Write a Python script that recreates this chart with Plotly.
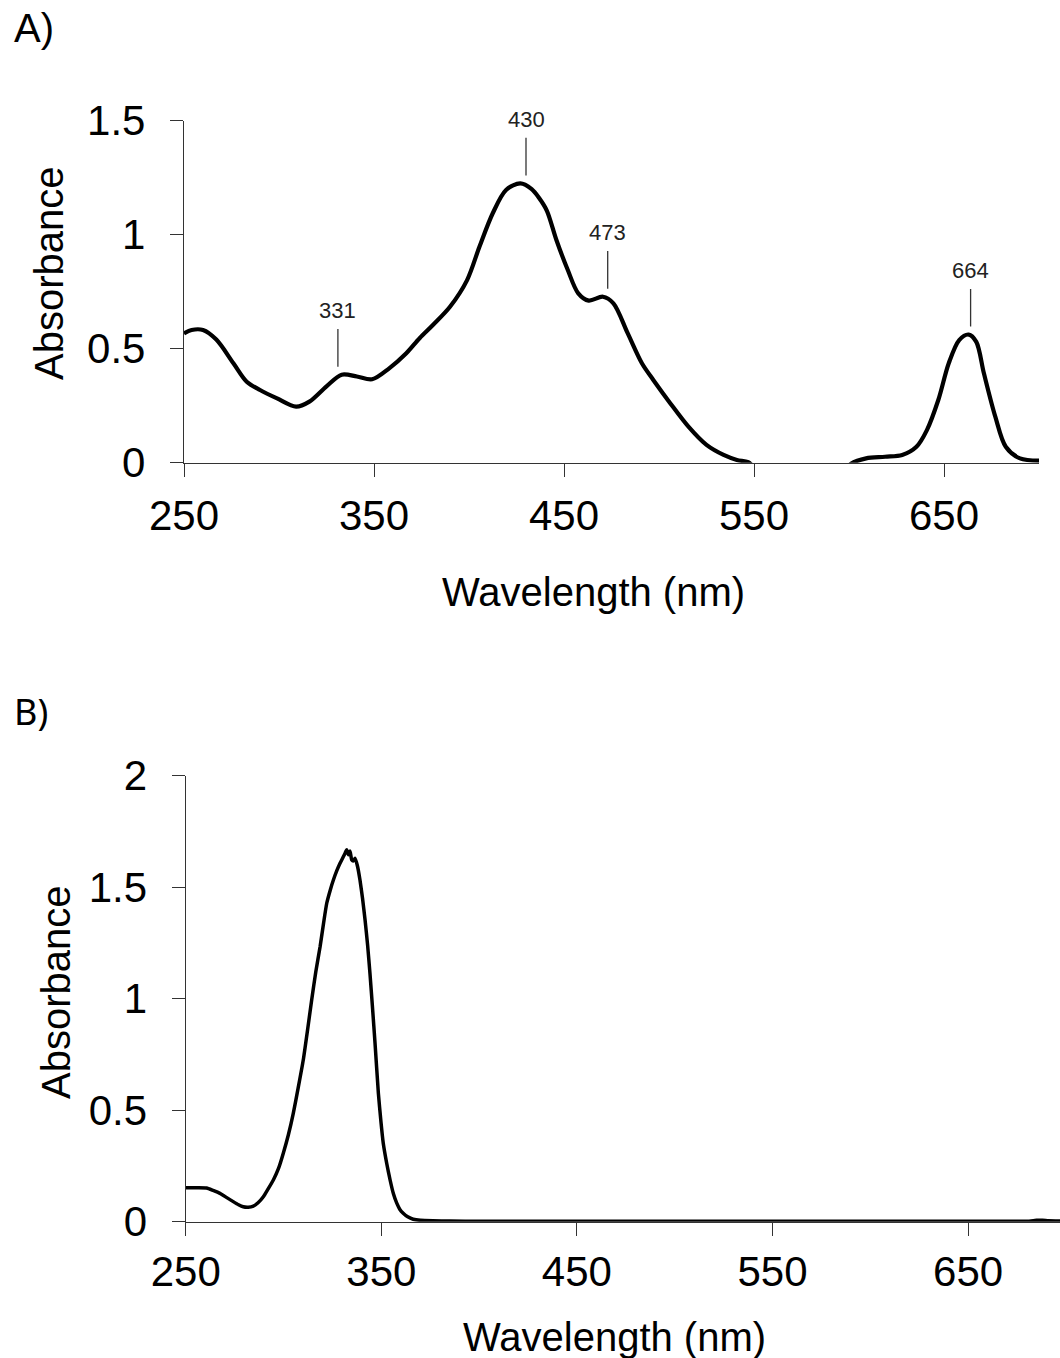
import plotly.graph_objects as go

# ---------------- data ----------------
# (A) absorption spectrum with several bands
wl_a = [250, 254, 260, 267, 276, 283, 290, 299, 309, 316, 325, 333, 341, 349,
        358, 367, 374, 381, 390, 399, 405.5, 412.5, 419.5, 427, 433, 437, 441,
        446, 452, 457.5, 463, 470.5, 476, 483.5, 491, 497, 506, 515.5, 525,
        534, 541, 547, 552, 598, 601, 609, 619, 628, 635.5, 641, 647, 652.5,
        658, 663, 667, 671, 677, 682.5, 690, 700]
abs_a = [0.567, 0.582, 0.582, 0.54, 0.436, 0.355, 0.319, 0.282, 0.246, 0.268,
         0.335, 0.386, 0.378, 0.366, 0.414, 0.48, 0.546, 0.604, 0.684, 0.801,
         0.947, 1.094, 1.196, 1.225, 1.2, 1.16, 1.105, 0.977, 0.845, 0.743,
         0.711, 0.728, 0.699, 0.568, 0.436, 0.363, 0.26, 0.158, 0.078, 0.034,
         0.012, 0.002, -0.03, -0.03, -0.005, 0.019, 0.026, 0.034, 0.07, 0.143,
         0.275, 0.436, 0.538, 0.562, 0.53, 0.392, 0.202, 0.07, 0.019, 0.009]

# labelled band maxima in (A)
peak_nm = [331, 430, 473, 664]
peak_abs = [0.386, 1.225, 0.728, 0.562]

# (B) absorption spectrum with a single UV band
wl_b = [250, 252, 256, 260.7, 264, 267.5, 271, 274.3, 277, 279.4, 282, 284.6,
        287, 289.7, 292, 294.8, 297.5, 299.9, 302.5, 305, 307.5, 310.1, 312.3,
        314.4, 316.5, 318.7, 320.5, 322.1, 324, 325.5, 327.3, 328.9, 330.5,
        331.6, 332.3, 333.2, 334, 334.9, 335.8, 336.6, 337.8, 339.1, 340.4,
        341.7, 343, 344.2, 345.5, 346.8, 348.5, 349.8, 351, 352.8, 354.5,
        356.2, 357.9, 359.5, 361.2, 363.5, 366.3, 370, 376.4, 385, 400, 450,
        500, 550, 600, 650, 680, 685, 688, 691, 697]
abs_b = [0.152, 0.152, 0.152, 0.151, 0.14, 0.127, 0.108, 0.09, 0.076, 0.067,
         0.065, 0.07, 0.085, 0.112, 0.145, 0.187, 0.24, 0.307, 0.39, 0.486,
         0.6, 0.725, 0.86, 0.994, 1.12, 1.233, 1.34, 1.428, 1.49, 1.532, 1.575,
         1.607, 1.635, 1.655, 1.668, 1.645, 1.662, 1.622, 1.618, 1.63, 1.595,
         1.532, 1.45, 1.353, 1.24, 1.114, 0.96, 0.8, 0.576, 0.45, 0.352, 0.26,
         0.187, 0.125, 0.083, 0.055, 0.038, 0.022, 0.011, 0.006, 0.004, 0.003,
         0.002, 0.002, 0.002, 0.002, 0.002, 0.002, 0.002, 0.006, 0.007, 0.004,
         0.003]

x_ticks = [250, 350, 450, 550, 650]
y_ticks_a = [0, 0.5, 1, 1.5]
y_ticks_b = [0, 0.5, 1, 1.5, 2]

W, H = 1060, 1358
FONT = "Liberation Sans, Arial, sans-serif"
AXIS_COL = "#333333"


def px_x(p):
    return p / W


def px_y(p):
    return 1 - p / H


fig = go.Figure()

fig.add_trace(go.Scatter(
    x=wl_a, y=abs_a, mode="lines", xaxis="x", yaxis="y",
    line=dict(color="#000000", width=4.2, shape="spline", smoothing=0.9),
    hoverinfo="skip", showlegend=False))

fig.add_trace(go.Scatter(
    x=wl_b, y=abs_b, mode="lines", xaxis="x2", yaxis="y2",
    line=dict(color="#000000", width=3.5, shape="spline", smoothing=0.5),
    hoverinfo="skip", showlegend=False))

axis_common = dict(
    showgrid=False, zeroline=False, showline=True, linecolor=AXIS_COL,
    linewidth=1.3, ticks="outside", ticklen=13, tickwidth=1.3,
    tickcolor=AXIS_COL, tickfont=dict(family=FONT, size=42, color="#000000"),
    automargin=False, fixedrange=True)

fig.update_layout(
    template="none",
    width=W, height=H, margin=dict(l=0, r=0, t=0, b=0, pad=0),
    paper_bgcolor="white", plot_bgcolor="white",
    xaxis=dict(axis_common, domain=[px_x(184), px_x(1039)], range=[250, 700],
               tickvals=x_ticks, anchor="y", ticklabelstandoff=3),
    yaxis=dict(axis_common, domain=[px_y(462.7), px_y(120.7)], range=[0, 1.5],
               tickvals=y_ticks_a, ticktext=["0", "0.5", "1", "1.5"],
               anchor="x", ticklabelstandoff=16),
    xaxis2=dict(axis_common, domain=[px_x(185.7), 1.0],
                range=[250, 250 + (W - 185.7) / 1.956],
                tickvals=x_ticks, anchor="y2", ticklabelstandoff=0),
    yaxis2=dict(axis_common, domain=[px_y(1221.7), px_y(775.7)], range=[0, 2],
                tickvals=y_ticks_b, ticktext=["0", "0.5", "1", "1.5", "2"],
                anchor="x2", ticklabelstandoff=16),
)

# band markers: short vertical line above each maximum, with its wavelength
for nm, a in zip(peak_nm, peak_abs):
    fig.add_shape(type="line", xref="x", yref="y", x0=nm, x1=nm,
                  y0=a + 0.035, y1=a + 0.2,
                  line=dict(color=AXIS_COL, width=1.3))
    fig.add_annotation(xref="x", yref="y", x=nm, y=a + 0.2, text=str(nm),
                       showarrow=False, yanchor="bottom", yshift=4,
                       font=dict(family=FONT, size=22, color="#222222"))

texts = [
    ("A)", 12, 28, 0, "left", FONT, 40),
    ("B)", 12, 711, 0, "left", "Noto Sans, DejaVu Sans, sans-serif", 36),
    ("Wavelength (nm)", 593.5, 592, 0, "center", FONT, 40),
    ("Wavelength (nm)", 614, 1337, 0, "center", FONT, 40),
    ("Absorbance", 49, 274, -90, "center", FONT, 40),
    ("Absorbance", 56, 993, -90, "center", FONT, 40),
]
for t, x, y, ang, xa, fam, sz in texts:
    fig.add_annotation(xref="paper", yref="paper", x=px_x(x), y=px_y(y),
                       text=t, showarrow=False, textangle=ang,
                       xanchor=xa, yanchor="middle",
                       font=dict(family=fam, size=sz, color="#000000"))

fig.write_html("out.html")
